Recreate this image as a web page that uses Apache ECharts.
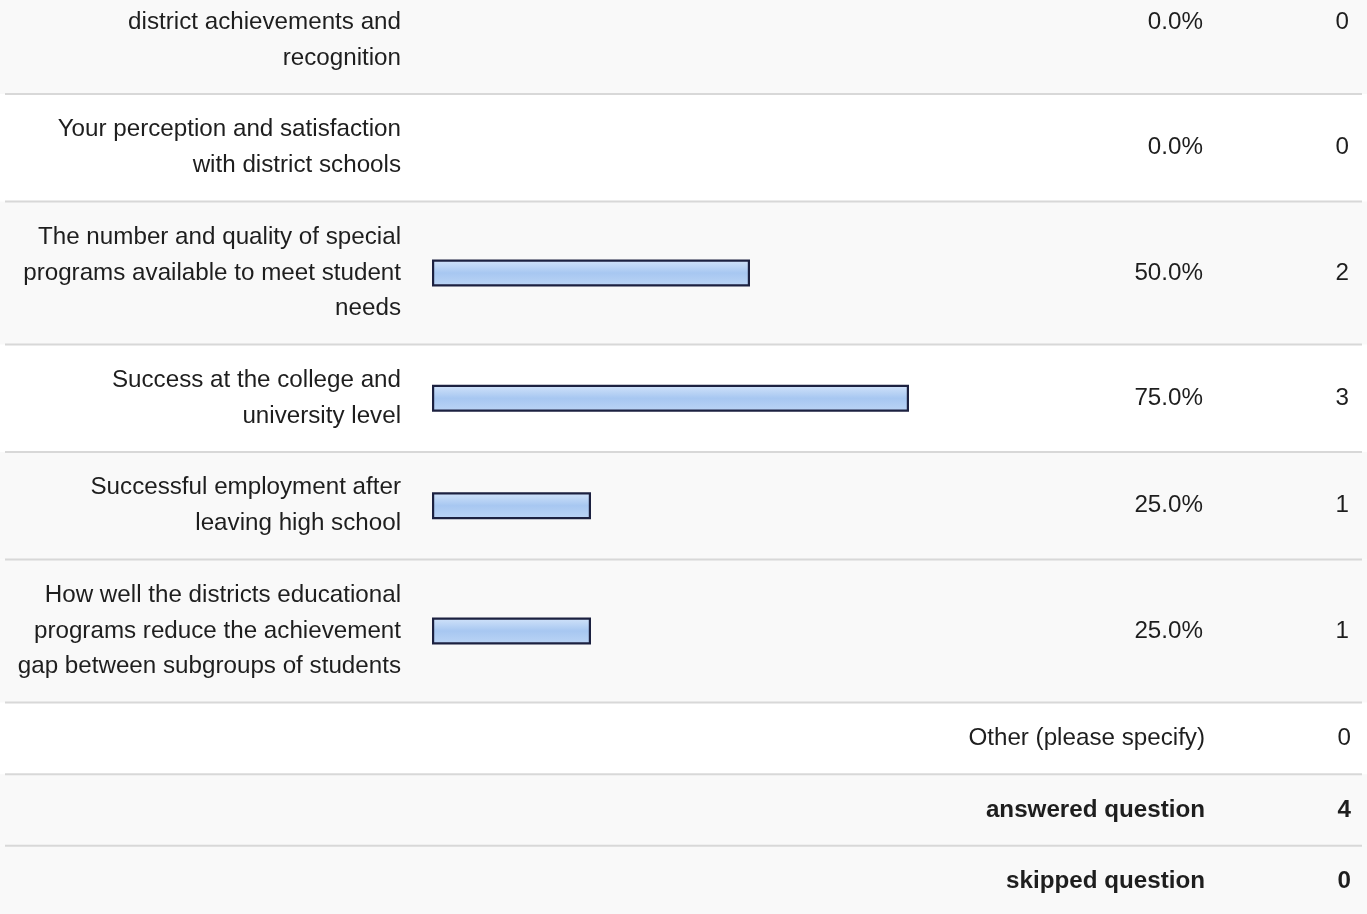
<!DOCTYPE html>
<html>
<head>
<meta charset="utf-8">
<script src="https://cdn.jsdelivr.net/npm/echarts@6/dist/echarts.min.js"></script>
<style>
html,body{margin:0;padding:0;background:#fff;overflow:hidden;}
#wrap{width:1367px;height:914px;overflow:hidden;position:relative;}
#chart{width:1367px;height:994px;position:absolute;left:0;top:-80px;}
</style>
</head>
<body>
<div id="wrap"><div id="chart"></div></div>
<script>
// ---- data ----
const categories = [
  "\ndistrict achievements and\nrecognition",
  "Your perception and satisfaction\nwith district schools",
  "The number and quality of special\nprograms available to meet student\nneeds",
  "Success at the college and\nuniversity level",
  "Successful employment after\nleaving high school",
  "How well the districts educational\nprograms reduce the achievement\ngap between subgroups of students"
];
const percents = [0.0, 0.0, 50.0, 75.0, 25.0, 25.0];
const counts = [0, 0, 2, 3, 1, 1];
const footerLabels = ["Other (please specify)", "answered question", "skipped question"];
const footerValues = [0, 4, 0];
const footerBold = [false, true, true];

// ---- layout ----
const SHIFT = 80;            // chart canvas starts 80px above the visible window
const UNIT = 35.8;
const FONT = "'Liberation Sans', Arial, Helvetica, sans-serif";
const FS = 24.2;
const TXT = '#1e1e1e';
const GRID_L = 432, GRID_W = 636;
const TOP0 = SHIFT + 94 - 4 * UNIT;

const rows = [];
let y = TOP0;
categories.forEach(c => {
  const u = c.split('\n').length + 1;
  rows.push({top: y, h: u * UNIT});
  y += u * UNIT;
});
const footRows = [];
footerLabels.forEach(() => {
  footRows.push({top: y, h: 2 * UNIT});
  y += 2 * UNIT;
});
const allRows = rows.concat(footRows);
const greyRows = [0, 2, 4, 5, 7, 8];

const grid = [], xAxis = [], yAxis = [], series = [];
categories.forEach((c, i) => {
  grid.push({left: GRID_L, width: GRID_W, top: rows[i].top, height: rows[i].h, containLabel: false});
  xAxis.push({type: 'value', gridIndex: i, min: 0, max: 100, show: false});
  const lblBase = {fontFamily: FONT, fontSize: FS, color: TXT, align: 'right'};
  yAxis.push({type: 'category', gridIndex: i, data: [c],
    axisLine: {show: false}, axisTick: {show: false}, splitLine: {show: false},
    axisLabel: Object.assign({margin: GRID_L - 401, lineHeight: UNIT}, lblBase)});
  yAxis.push({type: 'category', gridIndex: i, position: 'right', data: [percents[i].toFixed(1) + '%'],
    axisLine: {show: false}, axisTick: {show: false}, splitLine: {show: false},
    axisLabel: Object.assign({margin: 1203 - (GRID_L + GRID_W)}, lblBase)});
  yAxis.push({type: 'category', gridIndex: i, position: 'right', data: [String(counts[i])],
    axisLine: {show: false}, axisTick: {show: false}, splitLine: {show: false},
    axisLabel: Object.assign({margin: 1349 - (GRID_L + GRID_W)}, lblBase)});
  series.push({
    type: 'bar', xAxisIndex: i, yAxisIndex: 3 * i, barWidth: 27, silent: true,
    data: [{value: percents[i], itemStyle: percents[i] === 0 ? {borderWidth: 0, opacity: 0} : {}}],
    itemStyle: {
      borderColor: '#1c2140', borderWidth: 2.2,
      color: new echarts.graphic.LinearGradient(0, 0, 0, 1, [
        {offset: 0, color: '#d3e4fa'},
        {offset: 0.5, color: '#a7c7f1'},
        {offset: 1, color: '#bcd5f5'}
      ])
    }
  });
});

const graphic = [];
allRows.forEach((r, i) => {
  if (greyRows.indexOf(i) >= 0) {
    graphic.push({type: 'rect', z: -10, silent: true,
      shape: {x: 0, y: r.top, width: 1367, height: r.h},
      style: {fill: '#f9f9f9'}});
  }
});
allRows.forEach((r, i) => {
  if (i > 0) {
    graphic.push({type: 'line', z: -5, silent: true,
      shape: {x1: 5, y1: r.top, x2: 1362, y2: r.top},
      style: {stroke: '#d8d8d8', lineWidth: 2}});
  }
});
footRows.forEach((r, i) => {
  const cy = r.top + r.h / 2;
  const st = {fill: TXT, fontFamily: FONT, fontSize: FS, fontWeight: footerBold[i] ? 'bold' : 'normal',
    align: 'right', verticalAlign: 'middle'};
  graphic.push({type: 'text', silent: true, style: Object.assign({text: footerLabels[i], x: 1205, y: cy}, st)});
  graphic.push({type: 'text', silent: true, style: Object.assign({text: String(footerValues[i]), x: 1351, y: cy}, st)});
});

const chart = echarts.init(document.getElementById('chart'));
chart.setOption({
  animation: false,
  backgroundColor: '#ffffff',
  grid, xAxis, yAxis, series, graphic
});
</script>
</body>
</html>
